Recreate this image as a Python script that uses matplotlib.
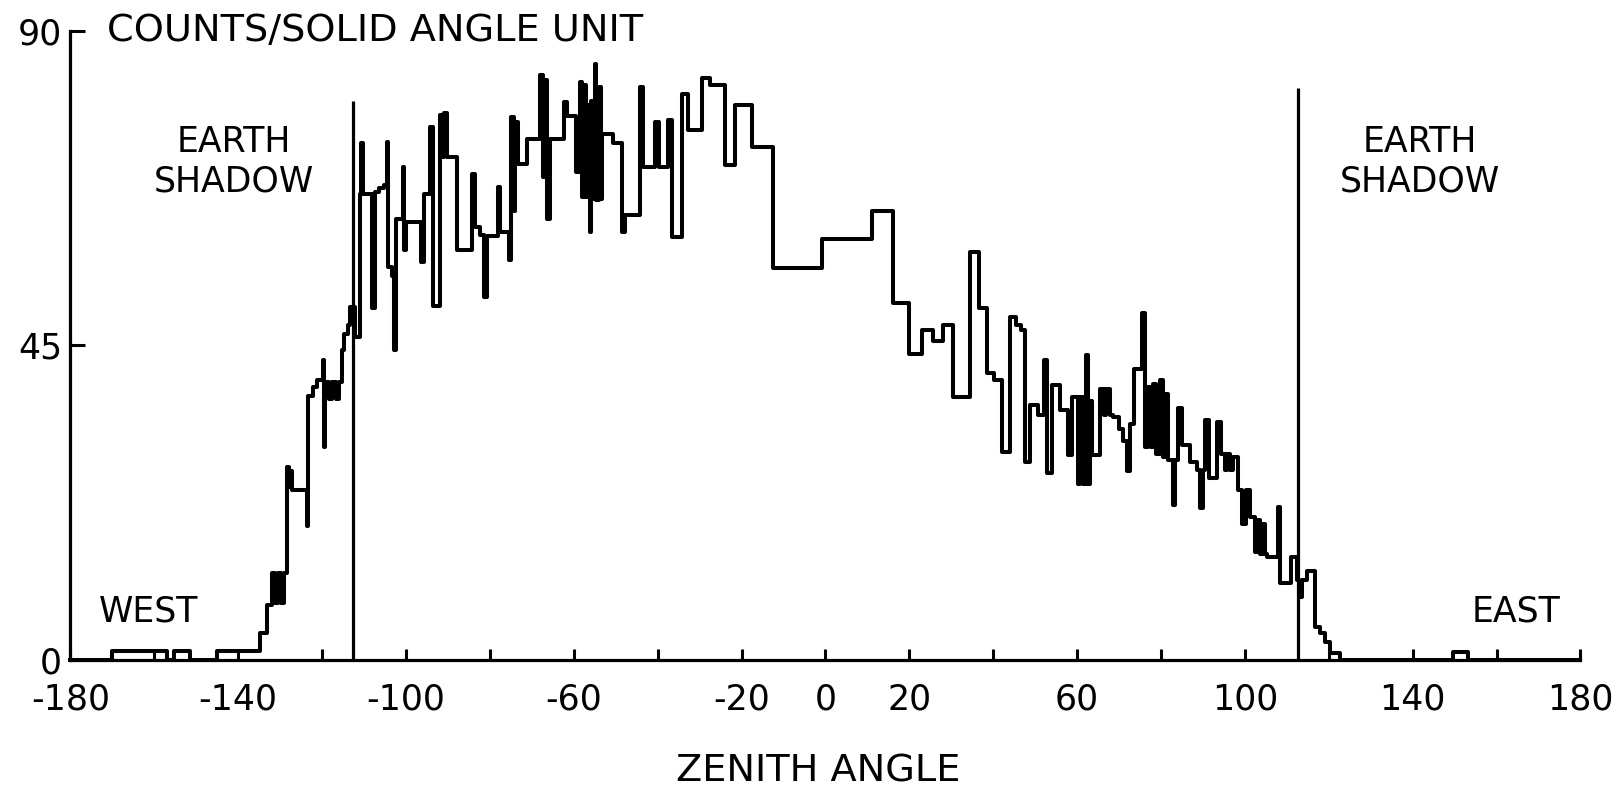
import matplotlib
matplotlib.use("Agg")
import matplotlib.pyplot as plt
import numpy as np

# Zenith-angle distribution: left edge of each step (degrees) and counts per solid angle unit
angle_edges = [
    -180, -170, -157, -155.4, -151.5, -145, -134.8, -133.2, -132.0, -131.2,
    -130.6, -129.8, -129.2, -128.4, -127.9, -127.5, -127.1, -123.7, -123.3, -122.2,
    -121.3, -119.9, -119.6, -119.2, -118.4, -117.6, -116.8, -116.0, -115.3, -114.7,
    -113.9, -113.3, -112.2, -111.0, -110.7, -110.3, -108.0, -107.4, -106.4, -105.2,
    -104.6, -104.2, -103.4, -102.8, -102.4, -100.8, -100.4, -99.9, -96.4, -95.6,
    -94.3, -93.6, -92.0, -91.4, -90.9, -90.3, -87.9, -84.3, -83.5, -82.3,
    -81.5, -80.8, -78.0, -77.6, -75.4, -74.9, -74.3, -73.9, -73.4, -71.2,
    -68.0, -67.4, -67.0, -66.4, -65.7, -62.3, -61.5, -59.4, -58.6, -58.0,
    -57.5, -57.0, -56.5, -56.2, -55.9, -55.3, -55.0, -54.6, -54.1, -53.6,
    -53.2, -50.6, -48.6, -47.8, -44.2, -43.4, -40.6, -39.8, -37.5, -36.7,
    -34.3, -32.7, -29.5, -27.5, -23.9, -21.5, -17.5, -12.4, -0.9, 11.0,
    16.2, 19.8, 22.9, 25.7, 28.1, 30.5, 34.5, 36.5, 38.4, 40.2,
    42.0, 44.0, 45.5, 46.5, 47.6, 48.8, 50.7, 52.0, 52.7, 53.9,
    55.9, 57.9, 58.7, 60.3, 60.8, 61.4, 62.0, 62.5, 63.0, 63.5,
    65.5, 66.3, 67.0, 67.8, 68.6, 70.0, 71.0, 71.8, 72.6, 73.6,
    75.4, 76.2, 77.0, 77.6, 78.2, 78.8, 79.7, 80.5, 81.0, 81.7,
    82.9, 83.3, 84.1, 84.9, 86.9, 88.5, 89.2, 90.1, 90.5, 91.4,
    93.4, 94.4, 95.2, 95.8, 96.5, 97.2, 98.4, 99.4, 100.2, 101.2,
    102.4, 103.0, 103.6, 104.3, 104.8, 105.2, 108.0, 108.4, 111.1, 112.3,
    113.0, 113.6, 114.7, 116.7, 118.0, 119.2, 120.3, 122.6, 149.6, 153.1,
]
counts = [
    0, 1.3, 0, 1.3, 0, 1.3, 3.8, 7.9, 12.4, 8.2,
    12.4, 8.2, 12.4, 27.6, 24.8, 27.0, 24.3, 19.1, 37.7, 39.0,
    40.0, 42.9, 30.5, 39.8, 37.4, 39.8, 37.4, 39.8, 44.3, 46.7,
    48.0, 50.5, 46.2, 66.7, 73.9, 66.7, 50.3, 66.9, 67.5, 67.9,
    74.1, 56.2, 55.0, 44.4, 63.1, 70.5, 58.6, 62.7, 56.9, 66.7,
    76.3, 50.7, 78.0, 72.0, 78.2, 72.0, 58.6, 69.6, 61.9, 60.8,
    51.9, 60.7, 67.7, 61.2, 57.2, 77.7, 64.3, 77.0, 71.0, 74.6,
    83.7, 69.1, 83.0, 63.1, 74.6, 79.8, 77.9, 69.8, 82.7, 66.2,
    82.2, 66.2, 79.4, 61.2, 80.0, 66.0, 85.3, 65.8, 82.0, 66.0,
    75.3, 74.0, 61.2, 63.6, 82.0, 70.5, 77.0, 70.5, 77.2, 60.5,
    81.0, 75.8, 83.2, 82.2, 70.8, 79.4, 73.4, 56.1, 60.3, 64.3,
    51.1, 43.8, 47.2, 45.7, 47.9, 37.6, 58.4, 50.3, 41.0, 40.0,
    29.8, 49.1, 48.0, 47.2, 28.3, 36.5, 35.0, 42.9, 26.7, 39.3,
    35.7, 29.3, 37.6, 25.2, 37.6, 25.2, 43.6, 25.2, 37.0, 29.3,
    38.8, 35.0, 38.8, 35.0, 34.8, 33.0, 31.4, 27.1, 33.8, 41.7,
    49.6, 30.5, 39.1, 30.5, 39.5, 29.5, 40.0, 29.0, 38.0, 28.6,
    22.2, 28.6, 36.0, 30.7, 28.3, 27.2, 21.7, 27.2, 34.3, 26.0,
    34.0, 29.5, 27.2, 29.5, 27.2, 29.0, 24.3, 19.5, 24.3, 20.5,
    15.5, 20.0, 15.2, 19.5, 15.2, 14.7, 21.9, 11.0, 14.7, 11.4,
    9.0, 11.4, 12.8, 4.7, 3.8, 2.6, 1.0, 0, 1.2, 0,
]

# Earth-shadow boundaries
shadow_angles = [-112.6, 112.6]
shadow_tops = [80.0, 81.9]

x_all_ticks = list(range(-180, 181, 20))
x_labelled = [-180, -140, -100, -60, -20, 0, 20, 60, 100, 140, 180]
y_ticks = [0, 45, 90]

plt.rcParams['font.family'] = ['Liberation Sans Narrow', 'DejaVu Sans']
plt.rcParams['axes.unicode_minus'] = False

fig = plt.figure(figsize=(16.23, 7.92), dpi=100)
ax = fig.add_axes([0.0434, 0.1667, 0.9304, 0.7942])

x = np.append(angle_edges, 180)
y = np.append(counts, counts[-1])
ax.step(x, y, where='post', color='black', lw=2.9, clip_on=False,
        solid_joinstyle='round')
ax.vlines(shadow_angles, 0, shadow_tops, color='black', lw=2.3)

ax.set_xlim(-180, 180)
ax.set_ylim(0, 90)
for side in ('top', 'right'):
    ax.spines[side].set_visible(False)
for side in ('left', 'bottom'):
    ax.spines[side].set_linewidth(2.3)

ax.set_xticks(x_labelled)
ax.set_xticklabels([str(v) for v in x_labelled])
ax.set_xticks([v for v in x_all_ticks if v not in x_labelled], minor=True)
ax.tick_params(axis='x', which='both', direction='in', length=8, width=2.2,
               pad=16, labelsize=25)
ax.set_yticks(y_ticks)
ax.set_yticklabels([str(v) for v in y_ticks])
ax.tick_params(axis='y', direction='in', length=11, width=2.2, pad=6,
               labelsize=25)

txt = dict(fontsize=25, color='black')
ax.text(-171.3, 90, 'COUNTS/SOLID ANGLE UNIT', ha='left', va='center',
        fontsize=27.5, color='black')
ax.text(-141.1, 71.3, 'EARTH\nSHADOW', ha='center', va='center',
        multialignment='center', **txt)
ax.text(141.7, 71.3, 'EARTH\nSHADOW', ha='center', va='center',
        multialignment='center', **txt)
ax.text(-161.5, 7.0, 'WEST', ha='center', va='center', **txt)
ax.text(164.6, 7.0, 'EAST', ha='center', va='center', **txt)
fig.text(818 / 1623, 21 / 792, 'ZENITH ANGLE', ha='center', va='center',
         fontsize=27.5, color='black')

fig.savefig('out.png', dpi=100, facecolor='white')
